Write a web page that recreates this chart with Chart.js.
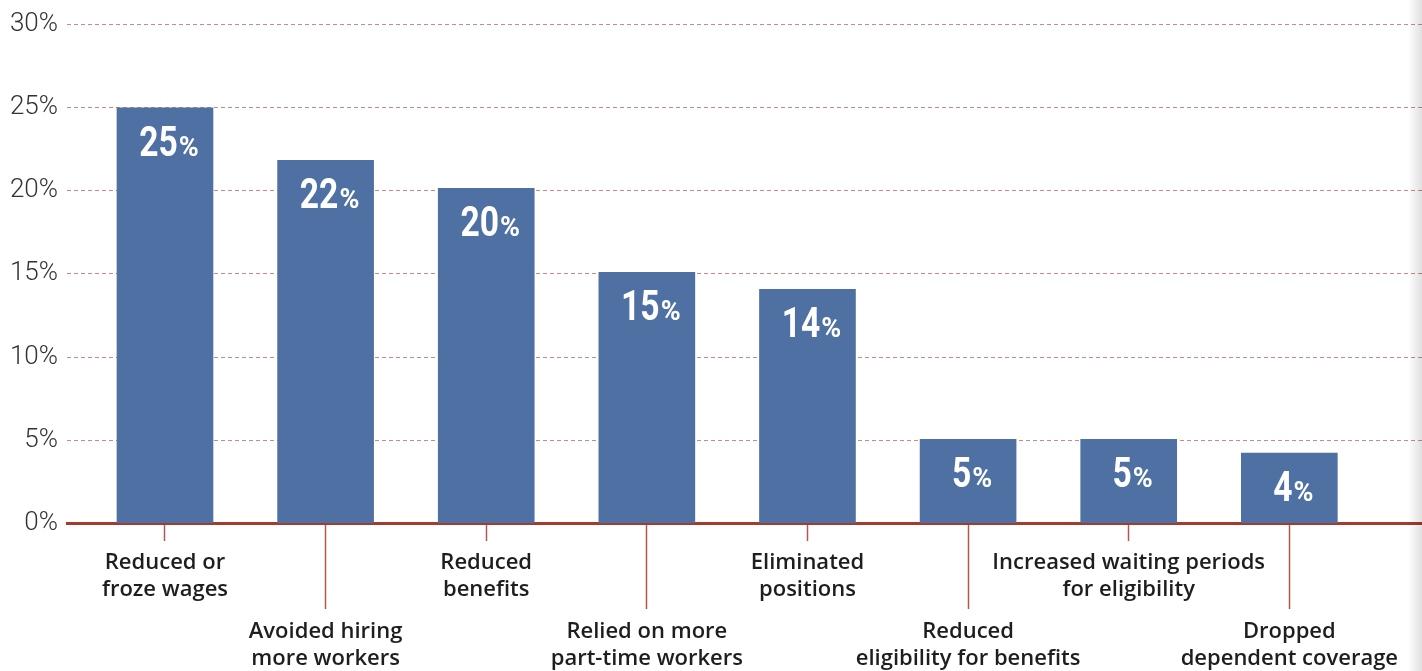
<!DOCTYPE html>
<html><head><meta charset="utf-8">
<script src="https://cdn.jsdelivr.net/npm/chart.js@4.4.0/dist/chart.umd.min.js"></script>
<style>
html,body{margin:0;padding:0;background:#fff;}
#wrap{position:relative;width:1422px;height:671px;overflow:hidden;}
#shade{position:absolute;right:0;top:0;width:14px;height:671px;background:linear-gradient(to right,rgba(0,0,0,0),rgba(0,0,0,0.12));pointer-events:none;}
</style></head><body>
<div id="wrap"><canvas id="c"></canvas><div id="shade"></div></div>
<script>
// ---- data ----
const categories = [
  ["Reduced or", "froze wages"],
  ["Avoided hiring", "more workers"],
  ["Reduced", "benefits"],
  ["Relied on more", "part-time workers"],
  ["Eliminated", "positions"],
  ["Reduced", "eligibility for benefits"],
  ["Increased waiting periods", "for eligibility"],
  ["Dropped", "dependent coverage"]
];
const values = [25.0, 21.83, 20.15, 15.1, 14.08, 5.05, 5.05, 4.22];
const valueLabels = ["25", "22", "20", "15", "14", "5", "5", "4"];
const yTickValues = [0, 5, 10, 15, 20, 25, 30];
const upperRowIdx = [0, 2, 4, 6];
const lowerRowIdx = [1, 3, 5, 7];

// ---- styles ----
const BAR = '#4f70a2';
const GRID = '#c98a80';
const AXIS = '#a53a2d';
const TICK = '#b5564b';
const LABEL = '#1e1e1e';
const xMin = -0.61, xMax = 7.826;

const barLabels = {
  id: 'barLabels',
  afterDatasetsDraw(chart) {
    const ctx = chart.ctx;
    const meta = chart.getDatasetMeta(0);
    meta.data.forEach((bar, i) => {
      const num = valueLabels[i];
      ctx.save();
      ctx.fillStyle = '#ffffff';
      ctx.textBaseline = 'alphabetic';
      ctx.textAlign = 'left';
      const sx = 0.8;
      ctx.font = 'bold 42px Roboto';
      const wn = ctx.measureText(num).width * sx;
      ctx.font = 'bold 27px Roboto';
      const wp = ctx.measureText('%').width;
      const gap = 1;
      const total = wn + gap + wp;
      const left = bar.x + 4 - total / 2;
      const baseY = bar.y + 48;
      ctx.save();
      ctx.translate(left, baseY);
      ctx.scale(sx, 1);
      ctx.font = 'bold 42px Roboto';
      ctx.fillText(num, 0, 0);
      ctx.restore();
      ctx.font = 'bold 27px Roboto';
      ctx.fillText('%', left + wn + gap, baseY);
      ctx.restore();
    });
  }
};

const catFont = { family: "'Open Sans'", weight: '600', size: 22, lineHeight: 26.7 / 22 };

new Chart(document.getElementById('c'), {
  type: 'bar',
  data: {
    datasets: [{
      data: values.map((v, i) => ({ x: i, y: v })),
      backgroundColor: BAR,
      borderWidth: 0,
      barThickness: 96
    }]
  },
  options: {
    responsive: true,
    maintainAspectRatio: false,
    animation: false,
    layout: { padding: { left: 0, right: 0, top: 24, bottom: 147.7 } },
    plugins: { legend: { display: false }, tooltip: { enabled: false } },
    scales: {
      y: {
        type: 'linear',
        position: 'left',
        min: 0, max: 30,
        afterBuildTicks: s => { s.ticks = yTickValues.map(v => ({ value: v })); },
        afterFit: s => { s.width = 67; },
        ticks: {
          padding: 9,
          color: '#333333',
          font: { family: 'Roboto', weight: '300', size: 26 },
          callback: v => v + '%'
        },
        grid: { color: GRID, lineWidth: 1, drawTicks: false },
        border: { display: false, dash: [4, 3] }
      },
      x: {
        type: 'linear',
        axis: 'x',
        position: { y: 0 },
        min: xMin, max: xMax,
        offset: false,
        z: 1,
        afterBuildTicks: s => { s.ticks = upperRowIdx.map(v => ({ value: v })); },
        ticks: {
          autoSkip: false, maxRotation: 0, minRotation: 0,
          padding: 10, color: LABEL, font: catFont,
          callback: v => categories[v]
        },
        grid: { offset: false, drawOnChartArea: false, drawTicks: true, tickLength: 16, tickColor: TICK, tickWidth: 1.5 },
        border: { display: true, color: AXIS, width: 3 }
      },
      x2: {
        type: 'linear',
        axis: 'x',
        position: { y: 0 },
        min: xMin, max: xMax,
        offset: false,
        z: 1,
        afterBuildTicks: s => { s.ticks = lowerRowIdx.map(v => ({ value: v })); },
        ticks: {
          autoSkip: false, maxRotation: 0, minRotation: 0,
          padding: 9, color: LABEL, font: catFont,
          callback: v => categories[v]
        },
        grid: { offset: false, drawOnChartArea: false, drawTicks: true, tickLength: 86, tickColor: TICK, tickWidth: 1.5 },
        border: { display: false }
      }
    }
  },
  plugins: [barLabels]
});
</script>
</body></html>
